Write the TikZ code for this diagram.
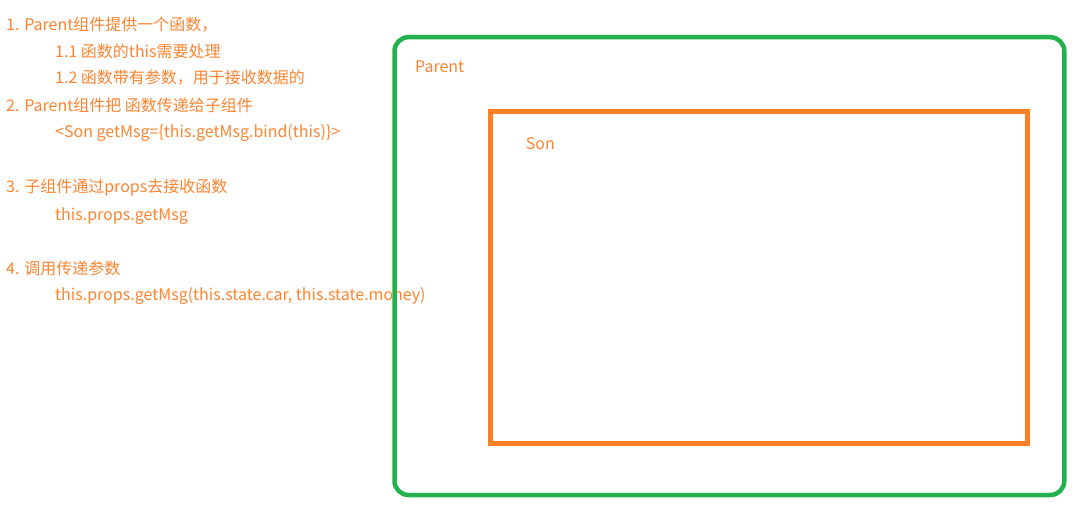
\documentclass[tikz,border=0pt]{standalone}
\usepackage{fontspec}
\setmainfont{Noto Sans CJK SC}
\definecolor{pgreen}{HTML}{22B14C}
\definecolor{porange}{HTML}{FF7F27}
\definecolor{ptext}{HTML}{FF8430}
\begin{document}
\begin{tikzpicture}[x=1pt,y=-1pt,
  txt/.style={anchor=base west,inner sep=0pt,text=ptext,font=\fontsize{16}{19}\selectfont}]
\useasboundingbox (0,0) rectangle (1087,511);
\fill[white] (0,0) rectangle (1087,511);
\node[txt] (l1) at (6,30.7) {1. Parent组件提供一个函数，};
\node[txt] (l2) at (55,57.3) {1.1 函数的this需要处理};
\node[txt] (l3) at (55,84) {1.2 函数带有参数，用于接收数据的};
\node[txt] (l4) at (6,111) {2. Parent组件把 函数传递给子组件};
\node[txt] (l5) at (55,137.5) {<Son getMsg=\{this.getMsg.bind(this)\}>};
\node[txt] (l6) at (6,192.7) {3. 子组件通过props去接收函数};
\node[txt] (l7) at (55,220) {this.props.getMsg};
\node[txt] (l8) at (6,274) {4. 调用传递参数};
\node[txt] (l9) at (55,300) {this.props.getMsg(this.state.car, this.state.money)};
\draw[pgreen,line width=4.5pt,rounded corners=14pt] (394.5,37.2) rectangle (1064.3,495);
\draw[porange,line width=5pt] (490.8,111.8) rectangle (1027.5,443.3);
\node[txt] (parent) at (415,72.7) {Parent};
\node[txt] (son) at (525.7,149.3) {Son};
\end{tikzpicture}
\end{document}
